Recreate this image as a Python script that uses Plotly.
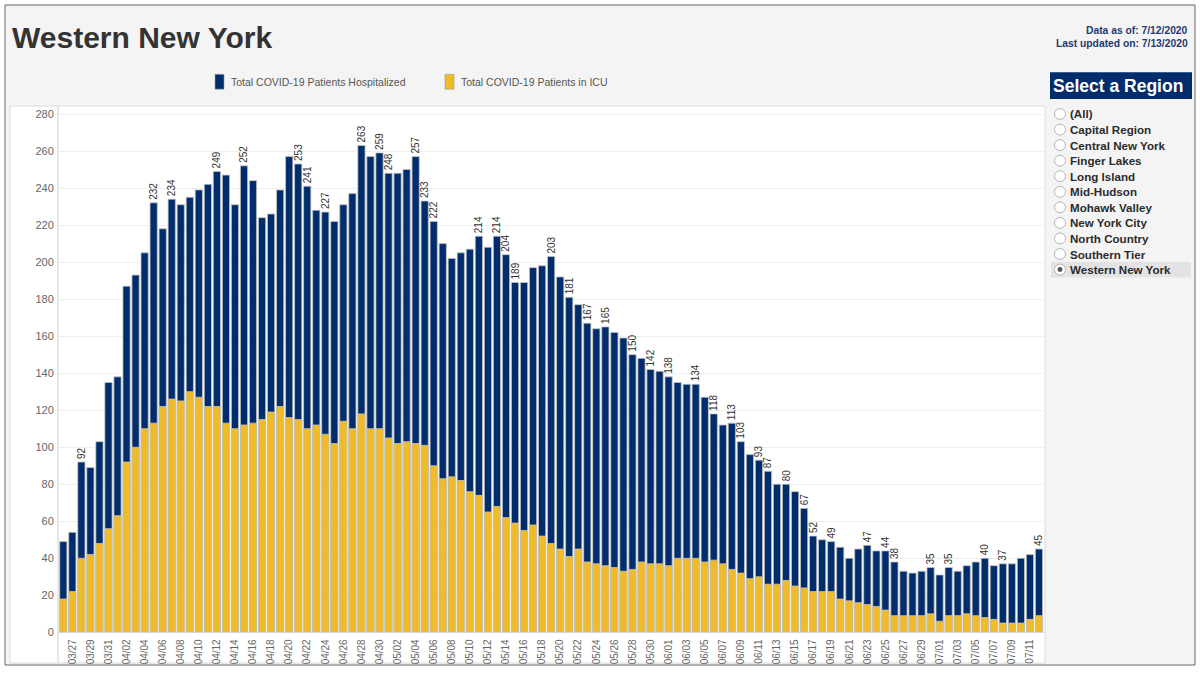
import pandas as pd
import plotly.graph_objects as go

# ---------------- data ----------------
dates = list(pd.date_range("2020-03-26", "2020-07-12").strftime("%m/%d"))

hospitalized = [
    49, 54, 92, 89, 103, 135,                                   # 03/26-03/31
    138, 187, 193, 205, 232, 218, 234, 231, 235, 239,           # 04/01-04/10
    242, 249, 247, 231, 252, 244, 224, 226, 239, 257,           # 04/11-04/20
    253, 241, 228, 227, 222, 231, 237, 263, 257, 259,           # 04/21-04/30
    248, 248, 250, 257, 233, 222, 210, 202, 205, 207,           # 05/01-05/10
    214, 208, 214, 204, 189, 189, 197, 198, 203, 192,           # 05/11-05/20
    181, 177, 167, 164, 165, 162, 159, 150, 148, 142, 141,      # 05/21-05/31
    138, 135, 134, 134, 127, 118, 112, 113, 103, 96,            # 06/01-06/10
    93, 87, 80, 80, 76, 67, 52, 50, 49, 46,                     # 06/11-06/20
    40, 45, 47, 44, 44, 38, 33, 32, 33, 35,                     # 06/21-06/30
    31, 35, 33, 36, 38, 40, 36, 37, 37, 40, 42, 45,             # 07/01-07/12
]

icu = [
    18, 22, 40, 42, 48, 56,
    63, 92, 100, 110, 113, 122, 126, 125, 130, 127,
    122, 122, 113, 110, 112, 113, 115, 119, 122, 116,
    115, 110, 112, 107, 102, 114, 110, 118, 110, 110,
    105, 102, 103, 102, 101, 90, 83, 84, 82, 76,
    74, 65, 68, 62, 59, 55, 58, 52, 48, 45,
    41, 45, 38, 37, 36, 35, 33, 34, 38, 37, 37,
    36, 40, 40, 40, 38, 39, 37, 34, 32, 29,
    30, 26, 26, 28, 25, 24, 22, 22, 22, 18,
    17, 16, 15, 14, 12, 9, 9, 9, 9, 10,
    6, 9, 9, 10, 9, 8, 7, 5, 5, 5, 7, 9,
]

labeled_dates = [
    "03/28", "04/05", "04/07", "04/12", "04/15", "04/21", "04/22", "04/24",
    "04/28", "04/30", "05/01", "05/04", "05/05", "05/06", "05/11", "05/13",
    "05/14", "05/15", "05/19", "05/21", "05/23", "05/25", "05/28", "05/30",
    "06/01", "06/04", "06/06", "06/08", "06/09", "06/11", "06/12", "06/14",
    "06/16", "06/17", "06/19", "06/23", "06/25", "06/26", "06/30", "07/02",
    "07/06", "07/08", "07/12",
]

tick_dates = dates[1::2]
y_ticks = list(range(0, 281, 20))

regions = ["(All)", "Capital Region", "Central New York", "Finger Lakes", "Long Island",
           "Mid-Hudson", "Mohawk Valley", "New York City", "North Country",
           "Southern Tier", "Western New York"]
selected_region = "Western New York"

series_names = ["Total COVID-19 Patients Hospitalized", "Total COVID-19 Patients in ICU"]

# ---------------- style ----------------
NAVY = "#022d6c"
GOLD = "#f0bb28"
FONT = "Liberation Sans, Arial, sans-serif"
W, H = 1200, 675


def px(x):
    return x / W


def py(y):
    return 1 - y / H


bar_text = [str(v) if d in labeled_dates else "" for d, v in zip(dates, hospitalized)]

fig = go.Figure()
fig.add_trace(go.Bar(
    x=dates, y=hospitalized, name=series_names[0],
    marker=dict(color=NAVY, line=dict(color="#c4c4c4", width=0.8)),
    width=0.8, text=bar_text, textposition="outside", textangle=-90,
    textfont=dict(family=FONT, size=10, color="#333333"),
    cliponaxis=False, constraintext="none", hoverinfo="x+y",
))
fig.add_trace(go.Bar(
    x=dates, y=icu, name=series_names[1],
    marker=dict(color=GOLD, line=dict(color="#c4c4c4", width=0.8)),
    width=0.8, hoverinfo="x+y",
))

shapes = []
annotations = []

# outer dashboard background + border
shapes.append(dict(type="rect", xref="paper", yref="paper", layer="below",
                   x0=px(5), x1=px(1195), y0=py(671), y1=py(5),
                   fillcolor="#f4f4f4", line=dict(color="#666666", width=1)))
# white chart panel
shapes.append(dict(type="rect", xref="paper", yref="paper", layer="below",
                   x0=px(10), x1=px(1045), y0=py(669), y1=py(107),
                   fillcolor="#ffffff", line=dict(color="#dadada", width=1)))
# left axis line
shapes.append(dict(type="line", xref="paper", yref="paper", layer="below",
                   x0=px(58), x1=px(58), y0=py(669), y1=py(107),
                   line=dict(color="#d0d0d0", width=1)))

# title
annotations.append(dict(text="Western New York", x=px(10), y=py(38), xref="paper", yref="paper",
                        xanchor="left", yanchor="middle", showarrow=False,
                        font=dict(family=FONT, size=30, color="#333333", weight="bold")))
# date info
annotations.append(dict(text="Data as of: 7/12/2020", x=px(1190), y=py(31), xref="paper", yref="paper",
                        xanchor="right", yanchor="middle", showarrow=False,
                        font=dict(family=FONT, size=10.3, color="#1f3a72", weight="bold")))
annotations.append(dict(text="Last updated on: 7/13/2020", x=px(1190), y=py(44), xref="paper", yref="paper",
                        xanchor="right", yanchor="middle", showarrow=False,
                        font=dict(family=FONT, size=10.3, color="#1f3a72", weight="bold")))

# legend (manual)
for x0, col, name in [(215, NAVY, series_names[0]), (445, GOLD, series_names[1])]:
    shapes.append(dict(type="rect", xref="paper", yref="paper",
                       x0=px(x0), x1=px(x0 + 9), y0=py(90), y1=py(75),
                       fillcolor=col, line=dict(color="#9a9a9a", width=0.6)))
    annotations.append(dict(text=name, x=px(x0 + 14), y=py(82.5), xref="paper", yref="paper",
                            xanchor="left", yanchor="middle", showarrow=False,
                            font=dict(family=FONT, size=10.5, color="#555555")))

# region selector
shapes.append(dict(type="rect", xref="paper", yref="paper",
                   x0=px(1050), x1=px(1192), y0=py(100), y1=py(73),
                   fillcolor=NAVY, line=dict(width=0)))
annotations.append(dict(text="Select a Region", x=px(1051), y=py(87), xref="paper", yref="paper",
                        xanchor="left", yanchor="middle", showarrow=False,
                        font=dict(family=FONT, size=17.5, color="#ffffff", weight="bold")))
for i, r in enumerate(regions):
    yc = 115 + i * 15.7
    if r == selected_region:
        shapes.append(dict(type="rect", xref="paper", yref="paper",
                           x0=px(1051), x1=px(1191), y0=py(yc + 8), y1=py(yc - 8),
                           fillcolor="#e3e3e3", line=dict(width=0)))
    shapes.append(dict(type="circle", xref="paper", yref="paper",
                       x0=px(1054.5), x1=px(1065.5), y0=py(yc + 5.5), y1=py(yc - 5.5),
                       fillcolor="#ffffff", line=dict(color="#b5b5b5", width=1)))
    if r == selected_region:
        shapes.append(dict(type="circle", xref="paper", yref="paper",
                           x0=px(1057.5), x1=px(1062.5), y0=py(yc + 2.5), y1=py(yc - 2.5),
                           fillcolor="#555555", line=dict(width=0)))
    annotations.append(dict(text=r, x=px(1068), y=py(yc), xref="paper", yref="paper",
                            xanchor="left", yanchor="middle", showarrow=False,
                            font=dict(family=FONT, size=11.6, color="#2b2b2b", weight="bold")))

fig.update_layout(
    width=W, height=H,
    margin=dict(l=0, r=0, t=0, b=0),
    paper_bgcolor="#ffffff",
    plot_bgcolor="rgba(0,0,0,0)",
    barmode="overlay",
    bargap=0.2,
    showlegend=False,
    font=dict(family=FONT, color="#666666"),
    xaxis=dict(
        type="category", categoryorder="array", categoryarray=dates,
        range=[-0.5, len(dates) - 0.5],
        domain=[px(58.8), px(1043.5)],
        tickmode="array", tickvals=tick_dates, ticktext=tick_dates,
        tickangle=-90, tickfont=dict(family=FONT, size=10, color="#666666"),
        showgrid=False, showline=True, linecolor="#d5d5d5", linewidth=1,
        ticks="", ticklabelstandoff=2, fixedrange=True,
    ),
    yaxis=dict(
        range=[0, 284.3],
        domain=[py(638), py(107)],
        tickmode="array", tickvals=y_ticks,
        tickfont=dict(family=FONT, size=11, color="#666666"),
        showgrid=True, gridcolor="#efefef", gridwidth=1,
        zeroline=False, showline=False, ticks="", ticklabelstandoff=4,
        fixedrange=True,
    ),
    shapes=shapes,
    annotations=annotations,
)

fig.write_html("out.html", config={"displayModeBar": False},
               post_script="document.body.style.margin='0';document.body.style.overflow='hidden';")
